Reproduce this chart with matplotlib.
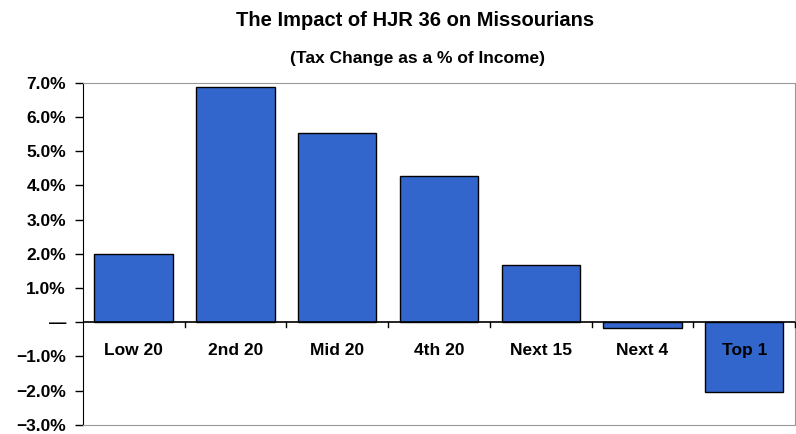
import matplotlib.pyplot as plt
import matplotlib.ticker as mticker
import numpy as np

groups = ["Low 20", "2nd 20", "Mid 20", "4th 20", "Next 15", "Next 4", "Top 1"]
change = [2.0, 6.87, 5.53, 4.27, 1.68, -0.18, -2.05]
yticks = [-3, -2, -1, 0, 1, 2, 3, 4, 5, 6, 7]

plt.rcParams['font.family'] = ['Liberation Sans', 'DejaVu Sans']

fig = plt.figure(figsize=(7.96, 4.34), dpi=100)
ax = fig.add_axes([0.104, 0.021, 0.895, 0.788])

x = np.arange(len(groups))
ax.bar(x, change, width=0.77, color="#3366cc", edgecolor="black", linewidth=1.0, zorder=2)

ax.set_xlim(-0.5, len(groups) - 0.5)
ax.set_ylim(-3, 7)
ax.set_yticks(yticks)

def fmt(v, pos):
    if abs(v) < 1e-9:
        return "\u2014"
    return ("\u2212%.1f%%" % -v) if v < 0 else "%.1f%%" % v

ax.yaxis.set_major_formatter(mticker.FuncFormatter(fmt))
for lab in ax.get_yticklabels():
    lab.set_fontweight("bold")
    lab.set_fontsize(12.5)
ax.tick_params(axis="y", direction="out", length=6, width=1, pad=6)

ax.set_xticks([])
# zero line with category separators
ax.axhline(0, color="black", linewidth=1.2, zorder=3)
for b in np.arange(0.5, len(groups) - 0.5, 1.0):
    ax.plot([b, b], [0, -0.14], color="black", linewidth=1.0, zorder=3)
ax.plot([len(groups) - 0.5] * 2, [0, -0.14], color="black", linewidth=1.0, zorder=3, clip_on=False)

for i, g in enumerate(groups):
    ax.text(i, -0.83, g, ha="center", va="center", fontsize=12.5, fontweight="bold", zorder=4)

for side in ["top", "right", "bottom"]:
    ax.spines[side].set_color("#999999")
ax.spines["left"].set_color("black")

fig.text(0.522, 0.952, "The Impact of HJR 36 on Missourians", ha="center", va="center",
         fontsize=14.5, fontweight="bold")
fig.text(0.525, 0.866, "(Tax Change as a % of Income)", ha="center", va="center",
         fontsize=12.5, fontweight="bold")

fig.savefig("out.png", dpi=100)
